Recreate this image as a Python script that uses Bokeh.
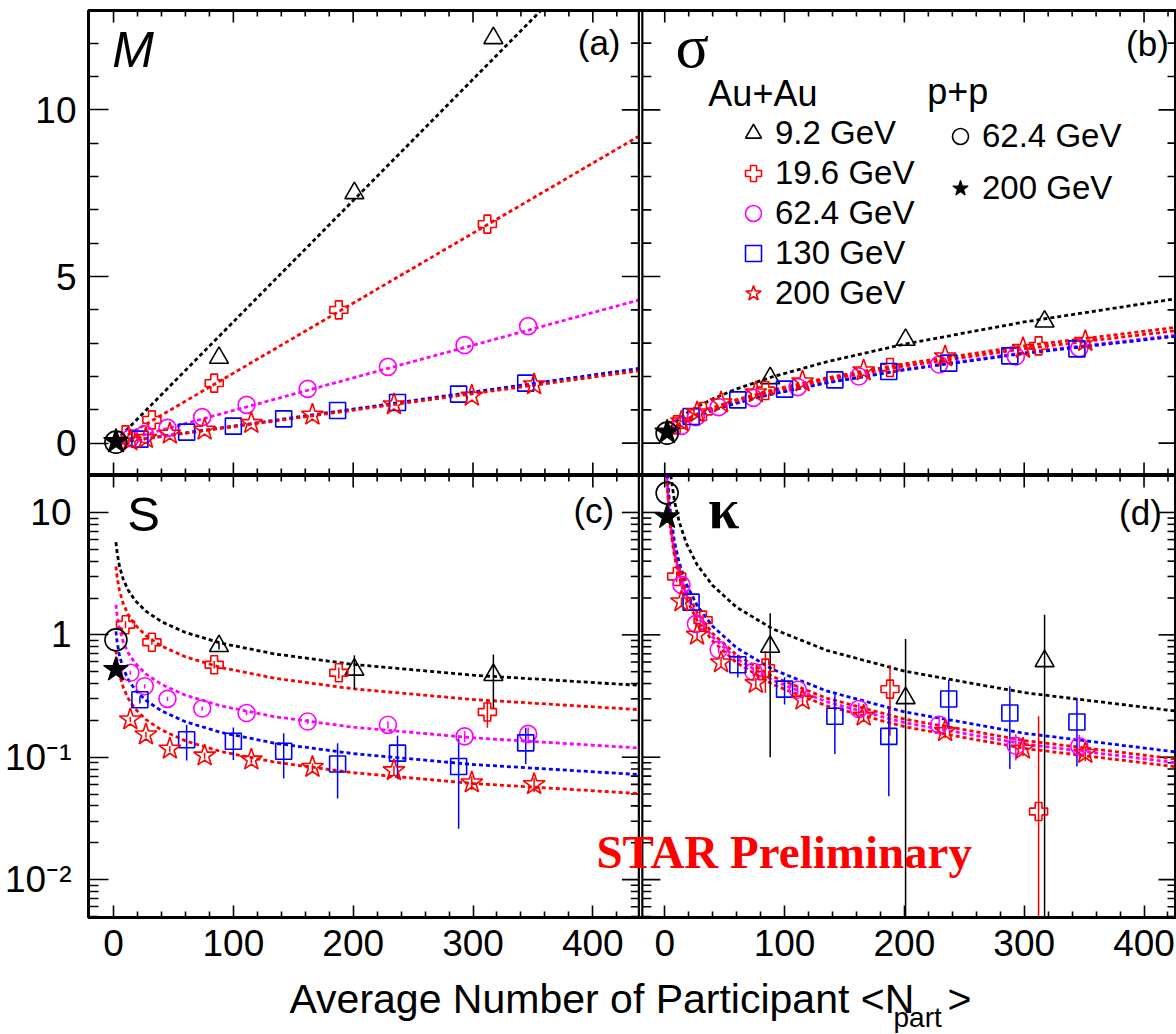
import math
from bokeh.plotting import figure
from bokeh.models import FixedTicker, Range1d, Span, Label, Legend, LegendItem
from bokeh.layouts import column
from bokeh.embed import file_html
from bokeh.resources import INLINE

# ------------------------------------------------------------------ data
ENERGIES = ["9.2 GeV", "19.6 GeV", "62.4 GeV", "130 GeV", "200 GeV"]

NPART_9 = [88, 201, 317]
NPART_19 = [10, 32, 84, 188, 312]
NPART_62 = [14, 26, 45, 74, 111, 162, 229, 293, 346]
NPART_130 = [22, 61, 100, 142, 187, 237, 288, 344]
NPART_200 = [14, 27, 47, 76, 115, 166, 234, 299, 351]
NPART_PP = [2]

# (a) mean M
M_9 = [2.56, 7.50, 12.15]
M_19 = [0.25, 0.70, 1.80, 4.00, 6.57]
M_62 = [0.15, 0.27, 0.46, 0.78, 1.15, 1.63, 2.29, 2.94, 3.51]
M_130 = [0.12, 0.33, 0.51, 0.73, 0.98, 1.22, 1.47, 1.80]
M_200 = [0.08, 0.15, 0.28, 0.40, 0.60, 0.85, 1.16, 1.42, 1.76]
M_PP62 = [0.03]
M_PP200 = [0.05]

# (b) sigma
SIG_9 = [1.95, 3.10, 3.65]
SIG_19 = [0.55, 0.95, 1.58, 2.27, 2.92]
SIG_62 = [0.52, 0.78, 1.08, 1.36, 1.68, 2.00, 2.36, 2.60, 2.85]
SIG_130 = [0.80, 1.30, 1.62, 1.90, 2.15, 2.40, 2.62, 2.83]
SIG_200 = [0.65, 0.92, 1.22, 1.52, 1.85, 2.18, 2.60, 2.85, 3.06]
SIG_PP62 = [0.30]
SIG_PP200 = [0.33]

# (c) skewness S
S_9 = [0.81, 0.52, 0.47]
S_9_ERR = [0.05, 0.16, 0.22]
S_19 = [1.21, 0.87, 0.57, 0.49, 0.234]
S_19_ERR = [0.08, 0.04, 0.04, 0.05, 0.06]
S_62 = [0.49, 0.38, 0.30, 0.25, 0.23, 0.196, 0.184, 0.148, 0.155]
S_62_ERR = [0.02, 0.015, 0.012, 0.01, 0.01, 0.01, 0.012, 0.015, 0.02]
S_130 = [0.295, 0.139, 0.135, 0.112, 0.088, 0.108, 0.084, 0.131]
S_130_ERR = [0.02, 0.045, 0.04, 0.045, 0.042, 0.042, 0.058, 0.043]
S_200 = [0.203, 0.153, 0.117, 0.103, 0.0955, 0.083, 0.078, 0.062, 0.060]
S_200_ERR = [0.01, 0.008, 0.006, 0.006, 0.006, 0.006, 0.007, 0.008, 0.008]
S_PP62 = [0.91]
S_PP200 = [0.52]

# (d) kurtosis kappa
K_9 = [0.80, 0.304, 0.61]
K_9_ERR = [0.70, 0.62, 0.85]
K_19 = [3.0, 1.32, 0.535, 0.36, 0.036]
K_19_ERR = [0.3, 0.15, 0.2, 0.21, 0.18]
K_62 = [2.56, 1.23, 0.755, 0.50, 0.356, 0.248, 0.184, 0.124, 0.123]
K_62_ERR = [0.2, 0.08, 0.05, 0.04, 0.03, 0.03, 0.03, 0.03, 0.03]
K_130 = [1.85, 0.569, 0.36, 0.216, 0.148, 0.299, 0.23, 0.194]
K_130_ERR = [0.1, 0.12, 0.09, 0.11, 0.1, 0.13, 0.15, 0.11]
K_200 = [1.87, 1.0, 0.594, 0.403, 0.295, 0.218, 0.163, 0.117, 0.108]
K_200_ERR = [0.15, 0.08, 0.05, 0.04, 0.03, 0.02, 0.02, 0.015, 0.015]
K_PP62 = [14.4]
K_PP200 = [9.2]

# dashed expectation curves
FIT_X_M = [2, 438]
FIT_M_9 = [0.073, 15.94]
FIT_M_19 = [0.042, 9.20]
FIT_M_62 = [0.020, 4.29]
FIT_M_130 = [0.010, 2.24]
FIT_M_200 = [0.010, 2.17]

FIT_X = [2, 3, 5, 8, 12, 18, 27, 40, 60, 90, 135, 200, 300, 438]
FIT_SIG_9 = [0.297, 0.364, 0.470, 0.594, 0.727, 0.891, 1.091, 1.328, 1.627, 1.992, 2.440, 2.970, 3.637, 4.395]
FIT_SIG_19 = [0.238, 0.292, 0.377, 0.476, 0.583, 0.714, 0.875, 1.065, 1.304, 1.598, 1.957, 2.382, 2.917, 3.524]
FIT_SIG_62 = [0.222, 0.272, 0.351, 0.444, 0.544, 0.666, 0.816, 0.993, 1.216, 1.489, 1.824, 2.220, 2.719, 3.286]
FIT_SIG_130 = [0.220, 0.269, 0.347, 0.440, 0.538, 0.659, 0.807, 0.983, 1.204, 1.474, 1.806, 2.198, 2.692, 3.252]
FIT_SIG_200 = [0.231, 0.283, 0.366, 0.463, 0.567, 0.694, 0.850, 1.035, 1.267, 1.552, 1.901, 2.314, 2.834, 3.424]

FIT_S_9 = [5.73, 4.68, 3.62, 2.86, 2.34, 1.91, 1.56, 1.28, 1.046, 0.854, 0.697, 0.573, 0.468, 0.387]
FIT_S_19 = [3.62, 2.956, 2.290, 1.810, 1.478, 1.207, 0.985, 0.810, 0.661, 0.540, 0.441, 0.362, 0.296, 0.245]
FIT_S_62 = [1.761, 1.438, 1.114, 0.880, 0.719, 0.587, 0.479, 0.394, 0.321, 0.262, 0.214, 0.176, 0.144, 0.119]
FIT_S_130 = [1.068, 0.872, 0.675, 0.534, 0.436, 0.356, 0.291, 0.239, 0.195, 0.159, 0.130, 0.107, 0.0872, 0.0722]
FIT_S_200 = [0.747, 0.610, 0.473, 0.374, 0.305, 0.249, 0.203, 0.167, 0.136, 0.111, 0.0910, 0.0747, 0.0610, 0.0505]

FIT_K_9 = [50.5, 33.7, 20.2, 12.6, 8.42, 5.61, 3.74, 2.53, 1.68, 1.12, 0.748, 0.505, 0.337, 0.231]
FIT_K_19 = [20.5, 13.7, 8.2, 5.13, 3.42, 2.28, 1.52, 1.025, 0.683, 0.456, 0.304, 0.205, 0.137, 0.0936]
FIT_K_62 = [19.15, 12.77, 7.66, 4.79, 3.19, 2.13, 1.42, 0.958, 0.638, 0.426, 0.284, 0.1915, 0.128, 0.0874]
FIT_K_130 = [23.5, 15.7, 9.4, 5.88, 3.92, 2.61, 1.74, 1.175, 0.783, 0.522, 0.348, 0.235, 0.157, 0.107]
FIT_K_200 = [17.75, 11.83, 7.1, 4.44, 2.96, 1.97, 1.315, 0.888, 0.592, 0.394, 0.263, 0.1775, 0.118, 0.081]

# ticks
X_MAJOR = [0, 100, 200, 300, 400]
X_MINOR = [20, 40, 60, 80, 120, 140, 160, 180, 220, 240, 260, 280, 320, 340, 360, 380, 420]
TOP_MAJOR = [0, 5, 10]
TOP_MINOR = [1, 2, 3, 4, 6, 7, 8, 9, 11, 12]
LOG_MAJOR = [0.01, 0.1, 1, 10]
LOG_MINOR = [0.005, 0.006, 0.007, 0.008, 0.009,
             0.02, 0.03, 0.04, 0.05, 0.06, 0.07, 0.08, 0.09,
             0.2, 0.3, 0.4, 0.5, 0.6, 0.7, 0.8, 0.9,
             2, 3, 4, 5, 6, 7, 8, 9]
LOG_LABELS = {0.01: "10⁻²", 0.1: "10⁻¹", 1: "1", 10: "10"}

# ------------------------------------------------------------------ layout constants
RIGHT_OFFSET = 460.0          # right-hand panels share the row figure, shifted in x
X_START, X_END = -20.9, 887.1
TOP_RANGE = (-0.94, 12.98)
BOT_RANGE = (0.0049, 20.05)
DIV_L, DIV_R = 438.4, 441.3
SANS = "Liberation Sans"
SERIF = "Liberation Serif"
FIT_DASH = "4 3"

STYLE = {
    "9.2 GeV": dict(color="black", marker="triangle", size=19),
    "19.6 GeV": dict(color="red", marker="plus", size=18),
    "62.4 GeV": dict(color="magenta", marker="circle", size=17),
    "130 GeV": dict(color="blue", marker="square", size=16),
    "200 GeV": dict(color="red", marker="star", size=23),
}
NPART = dict(zip(ENERGIES, [NPART_9, NPART_19, NPART_62, NPART_130, NPART_200]))

X_TICKS = X_MAJOR + [v + RIGHT_OFFSET for v in X_MAJOR]
X_MINOR_ALL = X_MINOR + [v + RIGHT_OFFSET for v in X_MINOR]
X_LABELS = {v: str(v) for v in X_MAJOR}
X_LABELS.update({v + RIGHT_OFFSET: str(v) for v in X_MAJOR})


def shift(xs):
    return [x + RIGHT_OFFSET for x in xs]


def make_fig(height, y_range, log, mb_top, mb_bottom, xaxis):
    p = figure(width=1176, height=height,
               x_range=Range1d(X_START, X_END), y_range=Range1d(*y_range),
               y_axis_type="log" if log else "linear",
               x_axis_location="below" if xaxis else None,
               output_backend="svg", toolbar_location=None,
               min_border_left=88, min_border_right=0,
               min_border_top=mb_top, min_border_bottom=mb_bottom)
    p.outline_line_color = "black"
    p.outline_line_width = 3
    p.xgrid.visible = False
    p.ygrid.visible = False
    p.background_fill_color = "white"
    p.border_fill_color = "white"
    return p


def style_axis(ax, major_in, minor_in, standoff):
    ax.major_tick_in = major_in
    ax.major_tick_out = 0
    ax.minor_tick_in = minor_in
    ax.minor_tick_out = 0
    ax.major_tick_line_width = 1.6
    ax.minor_tick_line_width = 1.6
    ax.major_tick_line_color = "black"
    ax.minor_tick_line_color = "black"
    ax.axis_line_width = 3
    ax.axis_line_color = "black"
    ax.major_label_text_font = SANS
    ax.major_label_text_font_size = "37px"
    ax.major_label_text_color = "black"
    ax.major_label_standoff = standoff


def tick_rays(p, xs, ys, length, angle):
    p.ray(x=xs, y=ys, length=length, angle=angle, length_units="screen",
          line_color="black", line_width=1.6)


def add_frame(p, log, y_range, bottom_axis):
    maj = LOG_MAJOR if log else TOP_MAJOR
    mnr = LOG_MINOR if log else TOP_MINOR
    p.yaxis.ticker = FixedTicker(ticks=maj, minor_ticks=mnr)
    style_axis(p.yaxis[0], 20, 10, 17 if log else 12)
    if log:
        p.yaxis.major_label_overrides = LOG_LABELS
    if bottom_axis:
        p.xaxis.ticker = FixedTicker(ticks=X_TICKS, minor_ticks=X_MINOR_ALL)
        p.xaxis.major_label_overrides = X_LABELS
        style_axis(p.xaxis[0], 12, 6, 12)
    else:
        tick_rays(p, X_TICKS, [y_range[0]] * len(X_TICKS), 12, math.pi / 2)
        tick_rays(p, X_MINOR_ALL, [y_range[0]] * len(X_MINOR_ALL), 6, math.pi / 2)
    # top border ticks
    tick_rays(p, X_TICKS, [y_range[1]] * len(X_TICKS), 12, -math.pi / 2)
    tick_rays(p, X_MINOR_ALL, [y_range[1]] * len(X_MINOR_ALL), 6, -math.pi / 2)
    # right border ticks (picture is cut at the right frame edge)
    tick_rays(p, [X_END] * len(maj), maj, 18, math.pi)
    tick_rays(p, [X_END] * len(mnr), mnr, 9, math.pi)
    # double divider between the left and right panels, with inward ticks
    for loc in (DIV_L, DIV_R):
        p.add_layout(Span(location=loc, dimension="height", line_color="black", line_width=2.2))
    tick_rays(p, [DIV_L] * len(maj), maj, 17, math.pi)
    tick_rays(p, [DIV_L] * len(mnr), mnr, 8, math.pi)
    tick_rays(p, [DIV_R] * len(maj), maj, 18, 0)
    tick_rays(p, [DIV_R] * len(mnr), mnr, 9, 0)


def draw_panel(p, right, fit_x, fits, values, errors, pp62, pp200):
    rends = {}
    for e in ENERGIES:
        xs = shift(fit_x) if right else list(fit_x)
        p.line(xs, fits[e], line_color=STYLE[e]["color"], line_width=2.8, line_dash=FIT_DASH)
    if errors is not None:
        for e in ENERGIES:
            xs = shift(NPART[e]) if right else list(NPART[e])
            lo = [max(v - d, 1e-4) for v, d in zip(values[e], errors[e])]
            hi = [v + d for v, d in zip(values[e], errors[e])]
            p.segment(x0=xs, y0=lo, x1=xs, y1=hi, line_color=STYLE[e]["color"], line_width=1.5)
    for e in ENERGIES:
        xs = shift(NPART[e]) if right else list(NPART[e])
        st = STYLE[e]
        rends[e] = p.scatter(xs, values[e], marker=st["marker"], size=st["size"],
                             line_color=st["color"], fill_color=None, line_width=1.6)
    xp = shift(NPART_PP) if right else list(NPART_PP)
    rends["pp62"] = p.scatter(xp, pp62, marker="circle", size=22, line_color="black",
                              fill_color=None, line_width=1.6)
    rends["pp200"] = p.scatter(xp, pp200, marker="star", size=26, line_color="black",
                               fill_color="black", line_width=1.2)
    return rends


def label(p, x, y, text, size, font=SANS, style="normal", color="black"):
    p.add_layout(Label(x=x, y=y, text=text, text_font=font, text_font_size=size,
                       text_font_style=style, text_color=color,
                       text_align="left", text_baseline="alphabetic"))


def d(*arrs):
    return dict(zip(ENERGIES, arrs))


# ------------------------------------------------------------------ top row (a),(b)
p_top = make_fig(475, TOP_RANGE, False, 10, 1, xaxis=False)
add_frame(p_top, False, TOP_RANGE, bottom_axis=False)
draw_panel(p_top, False, FIT_X_M, d(FIT_M_9, FIT_M_19, FIT_M_62, FIT_M_130, FIT_M_200),
           d(M_9, M_19, M_62, M_130, M_200), None, M_PP62, M_PP200)
rb = draw_panel(p_top, True, FIT_X, d(FIT_SIG_9, FIT_SIG_19, FIT_SIG_62, FIT_SIG_130, FIT_SIG_200),
                d(SIG_9, SIG_19, SIG_62, SIG_130, SIG_200), None, SIG_PP62, SIG_PP200)

leg_common = dict(glyph_width=40, glyph_height=40, label_standoff=2, padding=0, margin=0,
                  border_line_alpha=0, background_fill_alpha=0,
                  label_text_font=SANS, label_text_font_size="33px",
                  label_text_color="black", label_text_baseline="middle")
leg1 = Legend(items=[LegendItem(label=e, renderers=[rb[e]]) for e in ENERGIES],
              location=(645, 161), spacing=0, **leg_common)
leg2 = Legend(items=[LegendItem(label="62.4 GeV", renderers=[rb["pp62"]]),
                     LegendItem(label="200 GeV", renderers=[rb["pp200"]])],
              location=(852, 266), spacing=12, **leg_common)
p_top.add_layout(leg1)
p_top.add_layout(leg2)

label(p_top, -1.1, 11.81, "M", "50px", style="italic")
label(p_top, 387.4, 12.03, "(a)", "35px")
label(p_top, 468.9, 11.93, "σ", "62px", font=SERIF)
label(p_top, 845.0, 12.00, "(b)", "35px")
label(p_top, 496.4, 10.49, "Au+Au", "36px")
label(p_top, 679.1, 10.56, "p+p", "36px")

# ------------------------------------------------------------------ bottom row (c),(d)
p_bot = make_fig(498, BOT_RANGE, True, 0, 56, xaxis=True)
add_frame(p_bot, True, BOT_RANGE, bottom_axis=True)
draw_panel(p_bot, False, FIT_X, d(FIT_S_9, FIT_S_19, FIT_S_62, FIT_S_130, FIT_S_200),
           d(S_9, S_19, S_62, S_130, S_200),
           d(S_9_ERR, S_19_ERR, S_62_ERR, S_130_ERR, S_200_ERR), S_PP62, S_PP200)
draw_panel(p_bot, True, FIT_X, d(FIT_K_9, FIT_K_19, FIT_K_62, FIT_K_130, FIT_K_200),
           d(K_9, K_19, K_62, K_130, K_200),
           d(K_9_ERR, K_19_ERR, K_62_ERR, K_130_ERR, K_200_ERR), K_PP62, K_PP200)

label(p_bot, 11.5, 9.74, "S", "49px")
label(p_bot, 383.8, 10.38, "(c)", "35px")
label(p_bot, 496.4, 10.7, "κ", "56px", font=SERIF, style="bold")
label(p_bot, 839.2, 9.93, "(d)", "35px")
label(p_bot, 403.0, 0.01686, "STAR Preliminary", "47px", font=SERIF, style="bold", color="red")

# ------------------------------------------------------------------ shared x-axis title strip
TITLE_H = 61
p_title = figure(width=1176, height=TITLE_H, x_range=Range1d(88, 1176), y_range=Range1d(0, TITLE_H),
                 x_axis_location=None, y_axis_location=None, output_backend="svg",
                 toolbar_location=None, min_border=0, min_border_left=88)
p_title.outline_line_color = None
p_title.xgrid.visible = False
p_title.ygrid.visible = False
label(p_title, 289, 36, "Average Number of Participant <N", "41px")
label(p_title, 893, 17, "part", "28px")
label(p_title, 947, 36, ">", "41px")

layout = column(p_top, p_bot, p_title, spacing=0)
open("out.html", "w").write(file_html(layout, INLINE))
